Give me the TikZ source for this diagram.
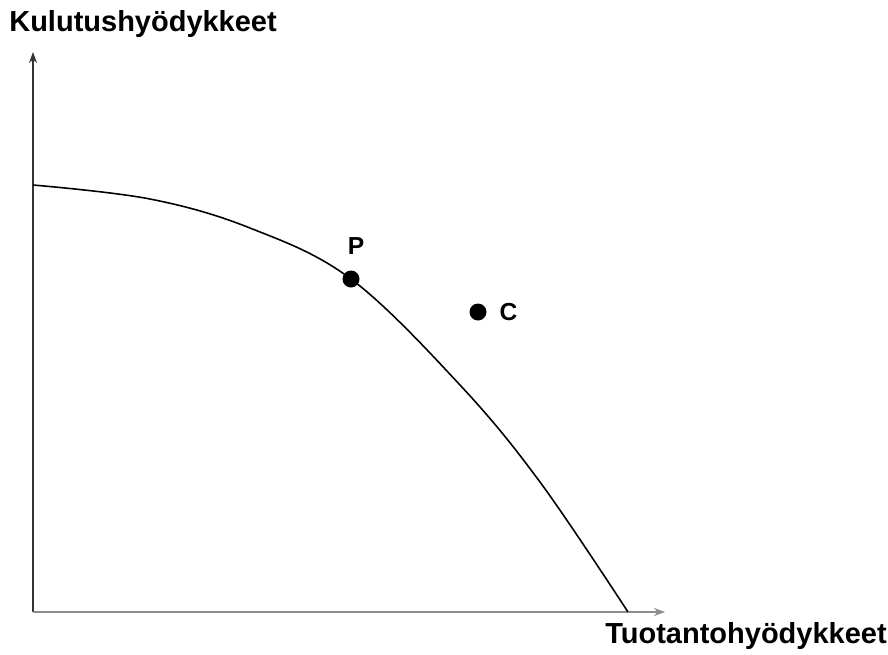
\documentclass[tikz,border=0pt]{standalone}
\usepackage{fontspec}
\setmainfont{Liberation Sans}
\usetikzlibrary{arrows.meta, positioning}
\definecolor{axisGray}{HTML}{8C8C8C}
\definecolor{axisDark}{HTML}{333333}

\begin{document}
\begin{tikzpicture}[
  x=0.02cm, y=-0.02cm,
  axis/.style={line width=0.8pt, -{Stealth[length=2.2mm, width=1.6mm]}},
  curve/.style={line width=0.9pt, black},
  dot/.style={circle, fill=black, inner sep=0pt, minimum size=0.34cm},
  lbl/.style={font=\bfseries\fontsize{16.5}{18}\selectfont, inner sep=0pt},
  ptlbl/.style={font=\bfseries\fontsize{14}{16}\selectfont, inner sep=0pt}
]
  \useasboundingbox (0,0) rectangle (888,654);

  % Axes
  \coordinate (origin) at (33,612);
  \coordinate (yEnd) at (33,52);
  \coordinate (xEnd) at (665,612);
  \draw [axis, draw=axisDark] (origin) -- (yEnd);
  \draw [axis, draw=axisGray] (origin) -- (xEnd);

  \node (yLabel) [lbl, anchor=west] at (9,24) {Kulutushyödykkeet};
  \node (xLabel) [lbl, anchor=east] at (887,636) {Tuotantohyödykkeet};

  % Frontier
  \draw [curve] plot[smooth, tension=0.6] coordinates
    {(33,185) (150,199) (250,228) (351,279) (460,385) (540,482) (628,612)};

  % Points
  \node (pDot) [dot] at (351,279) {};
  \node (pLabel) [ptlbl, above=0.3cm of pDot, xshift=0.1cm] {P};
  \node (cDot) [dot] at (478,312) {};
  \node (cLabel) [ptlbl, right=0.25cm of cDot] {C};
\end{tikzpicture}
\end{document}
